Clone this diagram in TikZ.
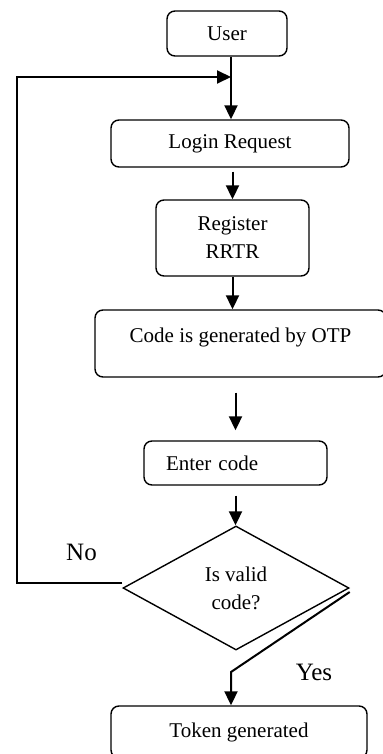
\documentclass[tikz,border=0pt]{standalone}
\usepackage{fontspec}
\setmainfont{Liberation Serif}
\usetikzlibrary{arrows.meta,shapes.geometric}
\begin{document}
\begin{tikzpicture}[x=0.5pt,y=-0.5pt,
    box/.style={draw,line width=0.7pt,rounded corners=4pt,inner sep=0pt,align=center,font=\fontsize{10.5}{14}\selectfont},
    flow/.style={line width=1pt,-{Triangle[length=7pt,width=6.5pt]}},
    tag/.style={font=\fontsize{12.5}{15}\selectfont}]
      \useasboundingbox (0,0) rectangle (383,754);
      \node[box,minimum width=60pt,minimum height=22.5pt] (user) at (227,33.5) {User};
      \node[box,minimum width=119pt,minimum height=23.5pt] (login) at (230,143.5) {Login Request};
      \node[box,minimum width=76.5pt,minimum height=38pt] (register) at (232.5,238) {Register\\RRTR};
      \node[box,minimum width=145.5pt,minimum height=33.5pt,text height=7.5pt,text depth=9pt] (otp) at (240.5,343.5) {Code is generated by OTP};
      \node[box,text width=69.5pt,align=left,inner xsep=11pt,minimum height=22pt] (enter) at (235.5,463) {Enter code};
      \node[draw,diamond,shape aspect=1.82,minimum width=113pt,minimum height=62pt,inner sep=0pt,line width=0.7pt,align=center,font=\fontsize{10.5}{14}\selectfont] (check) at (236,588) {Is valid\\code?};
      \node[box,minimum width=128pt,minimum height=26pt] (token) at (239,732) {Token generated};
      \coordinate (join) at (231,77);
      \coordinate (corner) at (17,77);
      \coordinate (bend) at (231,672);
      \draw[flow] (user.south -| join) -- (login.north -| join);
      \draw[flow] ([yshift=2.5pt]check.west) -| (corner) -- (join);
      \draw[flow,shorten <=2pt] (register.north |- login.south) -- (register.north);
      \draw[flow] (register.south) -- (register.south |- otp.north);
      \draw[flow,shorten <=7.5pt,shorten >=5pt] (enter.north |- otp.south) -- (enter.north);
      \draw[flow,shorten <=5pt] (enter.south) -- (enter.south |- check.north);
      \draw[flow] ([yshift=-2pt]check.east) -- (bend) -- (bend |- token.north);
      \node[tag] (nolabel) at (81.5,552) {No};
      \node[tag] (yeslabel) at (314,672) {Yes};
      \end{tikzpicture}
\end{document}
